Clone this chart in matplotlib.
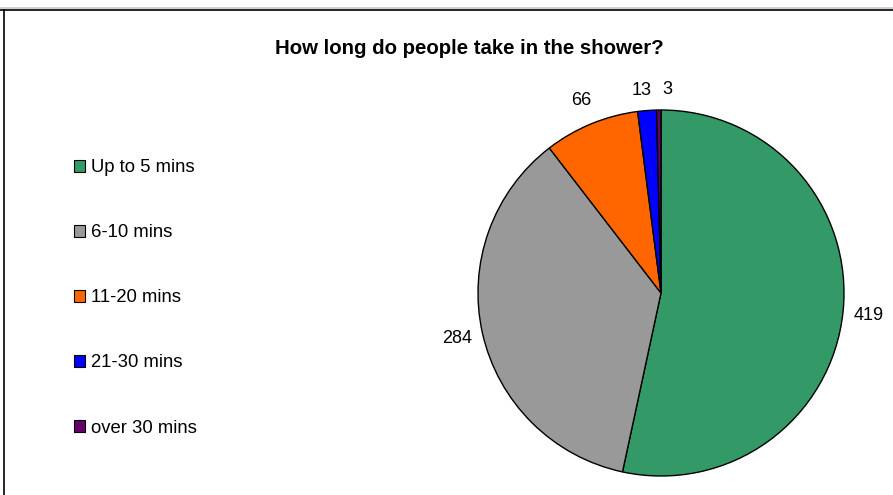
import matplotlib
matplotlib.use('Agg')
import matplotlib.pyplot as plt
from matplotlib.patches import Patch
from matplotlib.lines import Line2D

plt.rcParams['font.family'] = ['Liberation Sans', 'DejaVu Sans']

categories = ['Up to 5 mins', '6-10 mins', '11-20 mins', '21-30 mins', 'over 30 mins']
counts = [419, 284, 66, 13, 3]
colors = ['#339966', '#999999', '#FF6600', '#0000FF', '#660066']

W, H = 893, 495
fig = plt.figure(figsize=(W / 100, H / 100), dpi=100)

# outer frame (top and left edges visible)
fig.add_artist(Line2D([0, 1], [1 - 8 / H, 1 - 8 / H], color='#c8c8c8', lw=1.2, transform=fig.transFigure))
fig.add_artist(Line2D([0, 1], [1 - 9.5 / H, 1 - 9.5 / H], color='black', lw=1.2, transform=fig.transFigure))
fig.add_artist(Line2D([3.5 / W, 3.5 / W], [0, 1 - 9.5 / H], color='black', lw=1.2, transform=fig.transFigure))

cx, cy, r = 661, 293, 183
ax = fig.add_axes([(cx - r) / W, (H - cy - r) / H, 2 * r / W, 2 * r / H])
wedges, texts = ax.pie(counts, colors=colors, labels=[str(c) for c in counts],
                       startangle=90, counterclock=False, labeldistance=1.14,
                       wedgeprops=dict(edgecolor='black', linewidth=1),
                       textprops=dict(fontsize=13))
for t in texts:
    t.set_horizontalalignment('center')
    t.set_verticalalignment('center')
# the two thin slices at the top: spread their labels apart
x13, y13 = texts[3].get_position()
texts[3].set_position((x13 - 0.02, y13 - 0.03))
x3, y3 = texts[4].get_position()
texts[4].set_position((x3 + 0.05, y3 - 0.03))
ax.set_xlim(-1, 1)
ax.set_ylim(-1, 1)
ax.set_aspect('equal')
ax.axis('off')

fig.text(469 / W, 1 - 48 / H, 'How long do people take in the shower?',
         ha='center', va='center', fontsize=14.7, fontweight='bold')

handles = [Patch(facecolor=c, edgecolor='black', linewidth=0.8) for c in colors]
fig.legend(handles, categories, loc='upper left', bbox_to_anchor=(67 / W, 1 - 152 / H),
           frameon=False, fontsize=13.3, handlelength=0.6, handleheight=0.6,
           handletextpad=0.3, labelspacing=2.6, borderaxespad=0)

fig.savefig('out.png', dpi=100)
